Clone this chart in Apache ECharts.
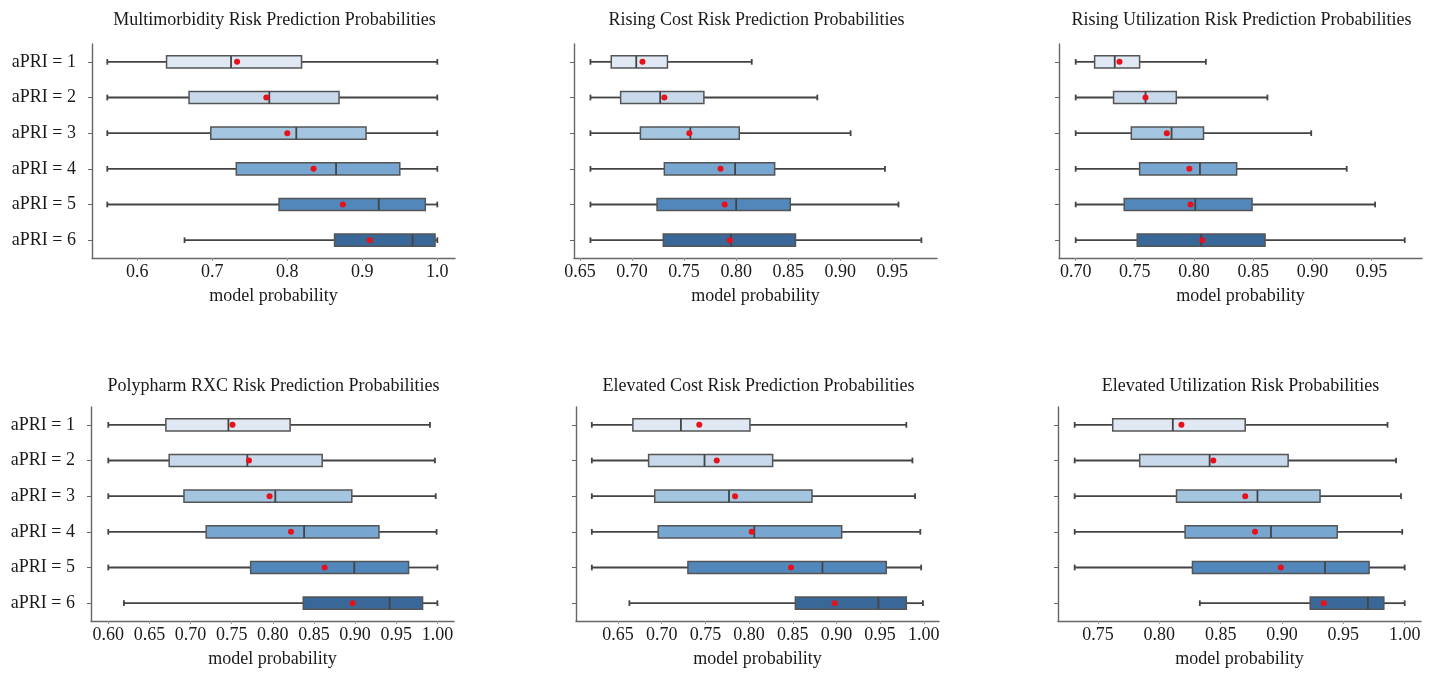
<!DOCTYPE html>
<html>
<head>
<meta charset="utf-8">
<script src="https://cdn.jsdelivr.net/npm/echarts@6/dist/echarts.min.js"></script>
<style>
html,body{margin:0;padding:0;background:#fff;}
#chart{width:1440px;height:675px;}
</style>
</head>
<body>
<div id="chart"></div>
<script>
// ---------- DATA ----------
const categories = ['aPRI = 1', 'aPRI = 2', 'aPRI = 3', 'aPRI = 4', 'aPRI = 5', 'aPRI = 6'];

const titles = [
  'Multimorbidity Risk Prediction Probabilities',
  'Rising Cost Risk Prediction Probabilities',
  'Rising Utilization Risk Prediction Probabilities',
  'Polypharm RXC Risk Prediction Probabilities',
  'Elevated Cost Risk Prediction Probabilities',
  'Elevated Utilization Risk Probabilities'
];
const xAxisName = 'model probability';

// [lower whisker, Q1, median, Q3, upper whisker]
const multimorbidityStats = [
  [0.560, 0.639, 0.725, 0.819, 1.000],
  [0.560, 0.669, 0.776, 0.869, 1.000],
  [0.560, 0.698, 0.812, 0.905, 1.000],
  [0.560, 0.732, 0.865, 0.950, 1.000],
  [0.560, 0.789, 0.922, 0.984, 1.000],
  [0.663, 0.863, 0.967, 0.997, 1.000]
];
const multimorbidityMeans = [0.733, 0.772, 0.800, 0.835, 0.874, 0.910];

const risingCostStats = [
  [0.660, 0.680, 0.704, 0.734, 0.815],
  [0.660, 0.689, 0.727, 0.769, 0.878],
  [0.660, 0.708, 0.756, 0.803, 0.910],
  [0.660, 0.731, 0.799, 0.837, 0.943],
  [0.660, 0.724, 0.800, 0.852, 0.956],
  [0.660, 0.730, 0.795, 0.857, 0.978]
];
const risingCostMeans = [0.710, 0.731, 0.755, 0.785, 0.789, 0.794];

const risingUtilStats = [
  [0.700, 0.716, 0.733, 0.754, 0.810],
  [0.700, 0.732, 0.759, 0.785, 0.862],
  [0.700, 0.747, 0.781, 0.808, 0.899],
  [0.700, 0.754, 0.805, 0.836, 0.929],
  [0.700, 0.741, 0.801, 0.849, 0.953],
  [0.700, 0.752, 0.806, 0.860, 0.978]
];
const risingUtilMeans = [0.737, 0.759, 0.777, 0.796, 0.797, 0.807];

const polypharmStats = [
  [0.600, 0.670, 0.746, 0.821, 0.991],
  [0.600, 0.674, 0.769, 0.860, 0.997],
  [0.600, 0.692, 0.803, 0.896, 0.998],
  [0.600, 0.719, 0.838, 0.929, 0.999],
  [0.600, 0.773, 0.899, 0.965, 1.000],
  [0.619, 0.837, 0.942, 0.982, 1.000]
];
const polypharmMeans = [0.751, 0.771, 0.796, 0.822, 0.863, 0.897];

const elevatedCostStats = [
  [0.620, 0.667, 0.722, 0.801, 0.980],
  [0.620, 0.685, 0.749, 0.827, 0.987],
  [0.620, 0.692, 0.777, 0.872, 0.990],
  [0.620, 0.696, 0.806, 0.906, 0.996],
  [0.620, 0.730, 0.884, 0.957, 0.997],
  [0.663, 0.853, 0.948, 0.980, 0.999]
];
const elevatedCostMeans = [0.743, 0.763, 0.784, 0.803, 0.848, 0.898];

const elevatedUtilStats = [
  [0.731, 0.762, 0.811, 0.870, 0.986],
  [0.731, 0.784, 0.841, 0.905, 0.993],
  [0.731, 0.814, 0.880, 0.931, 0.997],
  [0.731, 0.821, 0.891, 0.945, 0.998],
  [0.731, 0.827, 0.935, 0.971, 1.000],
  [0.833, 0.923, 0.970, 0.983, 1.000]
];
const elevatedUtilMeans = [0.818, 0.844, 0.870, 0.878, 0.899, 0.934];

// tick labels
const ticks1 = [0.6, 0.7, 0.8, 0.9, 1.0];
const ticks2 = [0.65, 0.70, 0.75, 0.80, 0.85, 0.90, 0.95];
const ticks3 = [0.70, 0.75, 0.80, 0.85, 0.90, 0.95];
const ticks4 = [0.60, 0.65, 0.70, 0.75, 0.80, 0.85, 0.90, 0.95, 1.00];
const ticks5 = [0.65, 0.70, 0.75, 0.80, 0.85, 0.90, 0.95, 1.00];
const ticks6 = [0.75, 0.80, 0.85, 0.90, 0.95, 1.00];

// ---------- LAYOUT / STYLE ----------
const FONT = '"Liberation Serif", "Times New Roman", serif';
const boxColors = ['#dfe8f3', '#c7d9eb', '#a3c5df', '#77a7d0', '#5287bb', '#396898'];
const edgeColor = '#444444';
const meanColor = '#e8101a';

const panels = [
  {stats: multimorbidityStats, means: multimorbidityMeans, ticks: ticks1, dec: 1, min: 0.5396, max: 1.0236, left: 92, top: 44, titleTop: 6, showY: true},
  {stats: risingCostStats, means: risingCostMeans, ticks: ticks2, dec: 2, min: 0.6442, max: 0.9930, left: 574, top: 44, titleTop: 6, showY: false},
  {stats: risingUtilStats, means: risingUtilMeans, ticks: ticks3, dec: 2, min: 0.6859, max: 0.9926, left: 1059, top: 44, titleTop: 6, showY: false},
  {stats: polypharmStats, means: polypharmMeans, ticks: ticks4, dec: 2, min: 0.5790, max: 1.0202, left: 91, top: 407, titleTop: 372, showY: true},
  {stats: elevatedCostStats, means: elevatedCostMeans, ticks: ticks5, dec: 2, min: 0.6019, max: 1.0174, left: 576, top: 407, titleTop: 372, showY: false},
  {stats: elevatedUtilStats, means: elevatedUtilMeans, ticks: ticks6, dec: 2, min: 0.7174, max: 1.0133, left: 1058, top: 407, titleTop: 372, showY: false}
];
const GW = 363, GH = 214;

function renderBox(params, api) {
  const cat = api.value(0);
  const lo = api.value(1), q1 = api.value(2), med = api.value(3), q3 = api.value(4), hi = api.value(5);
  const band = api.size([0, 1])[1];
  const bh = band * 0.34;
  const ch = band * 0.16;
  const pLo = api.coord([lo, cat]);
  const pQ1 = api.coord([q1, cat]);
  const pMed = api.coord([med, cat]);
  const pQ3 = api.coord([q3, cat]);
  const pHi = api.coord([hi, cat]);
  const y = pLo[1];
  const ls = {stroke: edgeColor, lineWidth: 1.8};
  return {
    type: 'group',
    children: [
      {type: 'line', shape: {x1: pLo[0], y1: y, x2: pQ1[0], y2: y}, style: ls},
      {type: 'line', shape: {x1: pQ3[0], y1: y, x2: pHi[0], y2: y}, style: ls},
      {type: 'line', shape: {x1: pLo[0], y1: y - ch / 2, x2: pLo[0], y2: y + ch / 2}, style: ls},
      {type: 'line', shape: {x1: pHi[0], y1: y - ch / 2, x2: pHi[0], y2: y + ch / 2}, style: ls},
      {type: 'rect', shape: {x: pQ1[0], y: y - bh / 2, width: pQ3[0] - pQ1[0], height: bh},
        style: {fill: boxColors[cat], stroke: '#555555', lineWidth: 1.5}},
      {type: 'line', shape: {x1: pMed[0], y1: y - bh / 2, x2: pMed[0], y2: y + bh / 2}, style: ls}
    ]
  };
}

const option = {
  backgroundColor: '#ffffff',
  animation: false,
  title: [], grid: [], xAxis: [], yAxis: [], series: []
};

panels.forEach((p, i) => {
  option.title.push({
    text: titles[i],
    left: p.left + GW / 2 - 4,
    top: p.titleTop,
    textAlign: 'center',
    textStyle: {fontFamily: FONT, fontSize: 18, fontWeight: 'normal', color: '#1a1a1a'}
  });
  option.grid.push({left: p.left, top: p.top, width: GW, height: GH, containLabel: false});
  option.xAxis.push({
    type: 'value', gridIndex: i, min: p.min, max: p.max,
    name: xAxisName, nameLocation: 'middle', nameGap: 29,
    nameTextStyle: {fontFamily: FONT, fontSize: 18, color: '#1a1a1a'},
    axisLine: {show: true, lineStyle: {color: '#666', width: 1.4}},
    axisTick: {show: true, length: 3, customValues: p.ticks, lineStyle: {color: '#999'}},
    axisLabel: {customValues: p.ticks, margin: 5, fontFamily: FONT, fontSize: 18, color: '#1a1a1a',
      formatter: v => Number(v).toFixed(p.dec)},
    splitLine: {show: false}
  });
  option.yAxis.push({
    type: 'category', gridIndex: i, data: categories, inverse: true,
    axisLine: {show: true, lineStyle: {color: '#666', width: 1.4}},
    axisTick: {show: true, alignWithLabel: true, length: 4, lineStyle: {color: '#666'}},
    axisLabel: {show: p.showY, margin: 16, fontFamily: FONT, fontSize: 18, color: '#1a1a1a'},
    splitLine: {show: false}
  });
  option.series.push({
    type: 'custom', xAxisIndex: i, yAxisIndex: i,
    renderItem: renderBox,
    encode: {x: [1, 2, 3, 4, 5], y: 0},
    data: p.stats.map((s, k) => [k, s[0], s[1], s[2], s[3], s[4]]),
    z: 2
  });
  option.series.push({
    type: 'scatter', xAxisIndex: i, yAxisIndex: i,
    symbol: 'circle', symbolSize: 6,
    itemStyle: {color: meanColor, opacity: 1},
    data: p.means.map((m, k) => [m, k]),
    z: 5
  });
});

const chart = echarts.init(document.getElementById('chart'), null, {renderer: 'canvas'});
chart.setOption(option);
</script>
</body>
</html>
